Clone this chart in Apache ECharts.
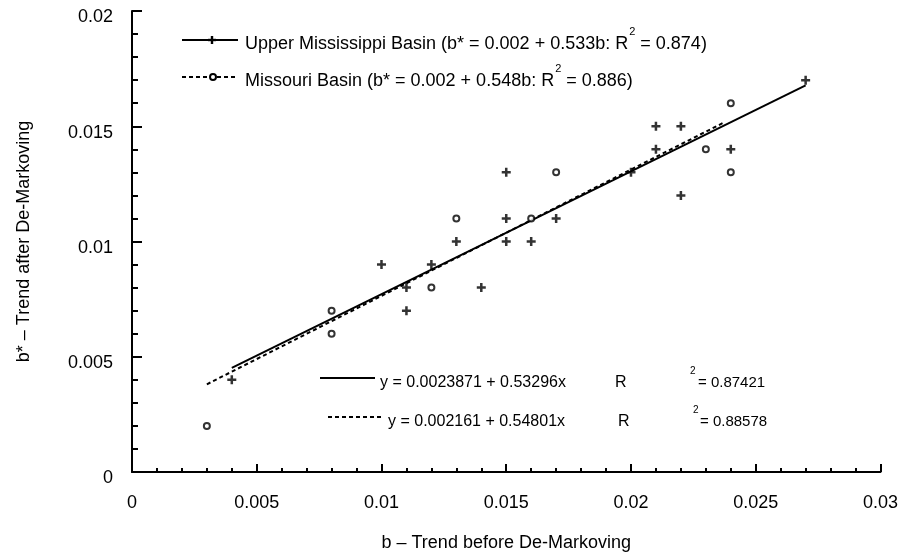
<!DOCTYPE html>
<html>
<head>
<meta charset="utf-8">
<script src="https://cdn.jsdelivr.net/npm/echarts@6/dist/echarts.min.js"></script>
<style>
  html, body { margin: 0; padding: 0; background: #fff; }
  #chart { width: 901px; height: 557px; }
</style>
</head>
<body>
<div id="chart"></div>
<script>
// Tick labels
const xTickLabels = ['0', '0.005', '0.01', '0.015', '0.02', '0.025', '0.03'];
const yTickLabels = ['0', '0.005', '0.01', '0.015', '0.02'];

// Upper Mississippi Basin: trend before (b) and after (b*) de-Markoving
const upperMissB     = [0.004, 0.010, 0.011, 0.011, 0.012, 0.013, 0.014, 0.015, 0.015, 0.015, 0.016, 0.017, 0.020, 0.021, 0.021, 0.022, 0.022, 0.024, 0.027];
const upperMissBStar = [0.004, 0.009, 0.008, 0.007, 0.009, 0.010, 0.008, 0.013, 0.011, 0.010, 0.010, 0.011, 0.013, 0.015, 0.014, 0.015, 0.012, 0.014, 0.017];

// Missouri Basin
const missouriB     = [0.003, 0.008, 0.008, 0.012, 0.013, 0.016, 0.017, 0.023, 0.024, 0.024];
const missouriBStar = [0.002, 0.007, 0.006, 0.008, 0.011, 0.011, 0.013, 0.014, 0.016, 0.013];

// Fitted lines: [intercept, slope] and the b-range each one spans
const upperMissFit = [0.0023871, 0.53296];
const missouriFit  = [0.002161, 0.54801];
const upperMissFitRange = [0.004, 0.027];
const missouriFitRange  = [0.003, 0.0237];

function fitLine(coef, range) {
  return range.map(x => [x, coef[0] + coef[1] * x]);
}
function zip(xs, ys) { return xs.map((x, i) => [x, ys[i]]); }

const FONT = 'Liberation Sans, Arial, sans-serif';
const PLUS = 'path://M3.6,0H6.4V3.6H10V6.4H6.4V10H3.6V6.4H0V3.6H3.6Z';

const chart = echarts.init(document.getElementById('chart'), null, { renderer: 'canvas' });

const axisCommon = {
  type: 'value',
  axisLine: { show: true, onZero: false, lineStyle: { color: '#000', width: 2 } },
  splitLine: { show: false },
  minorSplitLine: { show: false },
  nameTextStyle: { fontFamily: FONT, fontSize: 18, color: '#000' }
};

function txt(text, x, y, size, extra) {
  return Object.assign({
    type: 'text', x: x, y: y, z: 100,
    style: { text: text, fontFamily: FONT, fontSize: size, fill: '#000', align: 'left', verticalAlign: 'middle' }
  }, extra || {});
}
function hline(x1, x2, y, dash) {
  return {
    type: 'line', z: 100,
    shape: { x1: x1, y1: y, x2: x2, y2: y },
    style: { stroke: '#000', lineWidth: 2, lineDash: dash || null }
  };
}

chart.setOption({
  animation: false,
  backgroundColor: '#fff',
  grid: { left: 132, right: 19, top: 11, bottom: 85, containLabel: false },
  xAxis: Object.assign({}, axisCommon, {
    min: 0, max: 0.03, interval: 0.005,
    name: 'b \u2013 Trend before De-Markoving',
    nameLocation: 'middle', nameGap: 62,
    axisTick: { show: true, inside: true, length: 8, lineStyle: { color: '#000', width: 2 } },
    minorTick: { show: true, splitNumber: 5, length: 4, lineStyle: { color: '#000', width: 2 } },
    axisLabel: {
      margin: 22, fontFamily: FONT, fontSize: 18, color: '#000',
      formatter: (v) => xTickLabels[Math.round(v / 0.005)]
    }
  }),
  yAxis: Object.assign({}, axisCommon, {
    min: 0, max: 0.02, interval: 0.005,
    name: 'b* \u2013 Trend after De-Markoving',
    nameLocation: 'middle', nameGap: 99, nameRotate: 90,
    axisTick: { show: true, inside: true, length: 10, lineStyle: { color: '#000', width: 2 } },
    minorTick: { show: true, splitNumber: 5, length: 6, lineStyle: { color: '#000', width: 2 } },
    axisLabel: {
      margin: 19, fontFamily: FONT, fontSize: 18, color: '#000',
      verticalAlign: 'top', lineHeight: 13,
      formatter: (v) => yTickLabels[Math.round(v / 0.005)]
    }
  }),
  series: [
    {
      name: 'Upper Mississippi fit', type: 'line', data: fitLine(upperMissFit, upperMissFitRange),
      symbol: 'none', lineStyle: { color: '#000', width: 2 }, z: 2, silent: true
    },
    {
      name: 'Missouri fit', type: 'line', data: fitLine(missouriFit, missouriFitRange),
      symbol: 'none', lineStyle: { color: '#000', width: 2, type: [4, 3] }, z: 3, silent: true
    },
    {
      name: 'Upper Mississippi Basin', type: 'scatter', data: zip(upperMissB, upperMissBStar),
      symbol: PLUS, symbolSize: 9, itemStyle: { color: '#000' }, z: 4
    },
    {
      name: 'Missouri Basin', type: 'scatter', data: zip(missouriB, missouriBStar),
      symbol: 'circle', symbolSize: 6,
      itemStyle: { color: '#fff', borderColor: '#000', borderWidth: 2 }, z: 5
    }
  ],
  graphic: [
    // key for the two basins
    hline(182, 238, 40),
    { type: 'rect', z: 101, shape: { x: 208, y: 38.8, width: 8, height: 2.4 }, style: { fill: '#000' } },
    { type: 'rect', z: 101, shape: { x: 210.8, y: 36, width: 2.4, height: 8 }, style: { fill: '#000' } },
    txt('Upper Mississippi Basin (b* = 0.002 + 0.533b: R', 245, 44, 18),
    txt('2', 0, 32, 11, { id: 'sup1' }),
    txt(' = 0.874)', 0, 44, 18, { id: 'tail1' }),

    hline(182, 237, 77, [4, 3]),
    { type: 'circle', z: 101, shape: { cx: 213, cy: 77, r: 3 }, style: { fill: '#fff', stroke: '#000', lineWidth: 2 } },
    txt('Missouri Basin (b* = 0.002 + 0.548b: R', 245, 81, 18),
    txt('2', 0, 69, 11, { id: 'sup2' }),
    txt(' = 0.886)', 0, 81, 18, { id: 'tail2' }),

    // fitted equations
    hline(320, 375, 378),
    txt('y = 0.0023871 + 0.53296x', 380, 383, 16),
    txt('R', 615, 383, 16),
    txt('2', 690, 371, 10),
    txt('= 0.87421', 698, 383, 15),

    hline(328, 383, 417, [4, 3]),
    txt('y = 0.002161 + 0.54801x', 388, 422, 16),
    txt('R', 618, 422, 16),
    txt('2', 693, 410, 10),
    txt('= 0.88578', 700, 422, 15)
  ]
});

// place the superscript and the rest of each key line right after the text
function measure(text, size) {
  const c = document.createElement('canvas').getContext('2d');
  c.font = size + 'px ' + FONT;
  return c.measureText(text).width;
}
const w1 = measure('Upper Mississippi Basin (b* = 0.002 + 0.533b: R', 18);
const w2 = measure('Missouri Basin (b* = 0.002 + 0.548b: R', 18);
const s = measure('2', 11) + 1;
chart.setOption({
  graphic: [
    { id: 'sup1', x: 245 + w1 + 1 }, { id: 'tail1', x: 245 + w1 + s },
    { id: 'sup2', x: 245 + w2 + 1 }, { id: 'tail2', x: 245 + w2 + s }
  ]
});
</script>
</body>
</html>
